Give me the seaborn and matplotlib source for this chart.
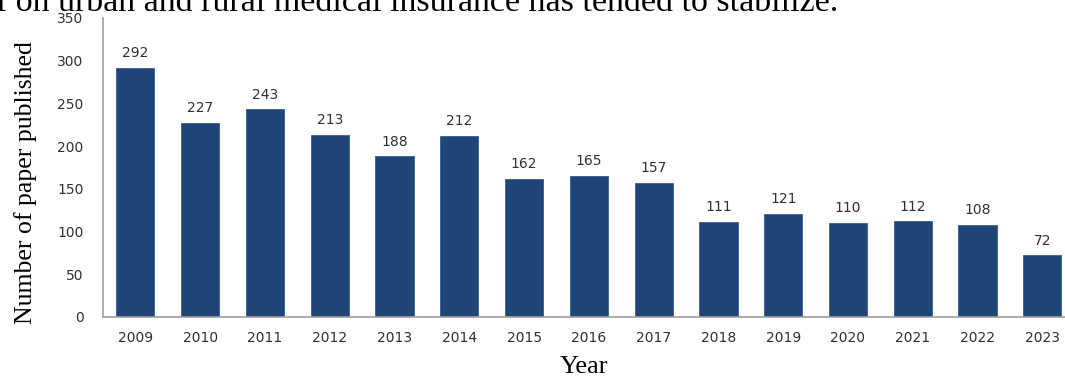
import numpy as np
import pandas as pd
import matplotlib
matplotlib.use("Agg")
import matplotlib.pyplot as plt
import seaborn as sns

# papers published per year
years = ["2009", "2010", "2011", "2012", "2013", "2014", "2015", "2016",
         "2017", "2018", "2019", "2020", "2021", "2022", "2023"]
papers = [292, 227, 243, 213, 188, 212, 162, 165, 157, 111, 121, 110, 112, 108, 72]
y_ticks = [0, 50, 100, 150, 200, 250, 300, 350]

df = pd.DataFrame({"Year": years, "Papers": papers})

sns.set_style("white")
plt.rcParams["font.family"] = ["DejaVu Sans"]

fig = plt.figure(figsize=(10.65, 3.78), dpi=100)
ax = fig.add_axes([0.0967, 0.1614, 0.9033, 0.791])

sns.barplot(data=df, x="Year", y="Papers", color="#1f4478", width=0.59,
            edgecolor="#3a5f8f", linewidth=0.6, saturation=1, ax=ax)

for i, v in enumerate(papers):
    ax.text(i, v + 9, str(v), ha="center", va="bottom", fontsize=10, color="#303030")

ax.set_ylim(0, 350)
ax.set_xlim(-0.5, 14.35)
ax.set_yticks(y_ticks)
ax.tick_params(axis="both", length=0, labelsize=10, labelcolor="#303030")
ax.tick_params(axis="x", pad=10)
ax.tick_params(axis="y", pad=14)

ax.set_xlabel("Year", family="Liberation Serif", fontsize=19, color="black", labelpad=8)
ax.set_ylabel("Number of paper published", family="Liberation Serif", fontsize=18.5,
              color="black")
ax.yaxis.set_label_coords(-0.069, 0.45)

for s in ["top", "right"]:
    ax.spines[s].set_visible(False)
for s in ["left", "bottom"]:
    ax.spines[s].set_color("#a0a0a0")
    ax.spines[s].set_linewidth(1.2)

# leftover line of body text cut at the top of the screenshot
fig.text(-0.004, 0.972, "f on urban and rural medical insurance has tended to stabilize.",
         family="Liberation Serif", fontsize=24.5, ha="left", va="baseline", color="black")

fig.savefig("out.png", dpi=100)
